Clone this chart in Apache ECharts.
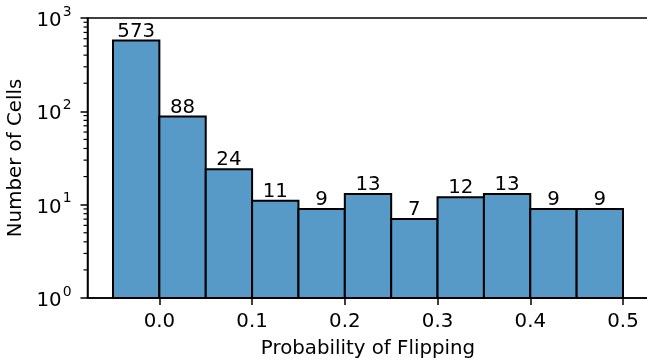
<!DOCTYPE html>
<html>
<head>
<meta charset="utf-8">
<script src="https://cdn.jsdelivr.net/npm/echarts@6/dist/echarts.min.js"></script>
<style>html,body{margin:0;padding:0;background:#fff;}#c{width:647px;height:362px;}</style>
</head>
<body>
<div id="c"></div>
<script>
var binLeft = [-0.05, 0.0, 0.05, 0.1, 0.15, 0.2, 0.25, 0.3, 0.35, 0.4, 0.45];
var binRight = [0.0, 0.05, 0.1, 0.15, 0.2, 0.25, 0.3, 0.35, 0.4, 0.45, 0.5];
var counts = [573, 88, 24, 11, 9, 13, 7, 12, 13, 9, 9];
var xTicks = [0.0, 0.1, 0.2, 0.3, 0.4, 0.5];
var yMajor = [1, 10, 100, 1000];
var yMinor = [2,3,4,5,6,7,8,9,20,30,40,50,60,70,80,90,200,300,400,500,600,700,800,900];

var FONT = 'DejaVu Sans';
var FS = 19.8;
var XMIN = -0.0775, XMAX = 0.5275;

var chart = echarts.init(document.getElementById('c'), null, {renderer: 'canvas'});
chart.setOption({
  animation: false,
  backgroundColor: '#fff',
  grid: {left: 87.5, top: 18, width: 561, height: 280, containLabel: false, outerBoundsMode: 'none',
         show: true, borderColor: '#000', borderWidth: 1.5, backgroundColor: 'transparent'},
  xAxis: {
    type: 'value', min: XMIN, max: XMAX,
    name: 'Probability of Flipping', nameLocation: 'middle', nameGap: 41,
    nameTextStyle: {fontFamily: FONT, fontSize: FS, color: '#000'},
    axisLine: {show: true, onZero: false, lineStyle: {color: '#000', width: 1.5}},
    axisTick: {show: true, length: 7, lineStyle: {color: '#000', width: 1.5}, customValues: xTicks},
    axisLabel: {fontFamily: FONT, fontSize: FS, color: '#000', margin: 14, customValues: xTicks,
      formatter: function (v) { return v.toFixed(1); }},
    splitLine: {show: false}
  },
  yAxis: {
    type: 'log', logBase: 10, min: 1, max: 1000,
    name: 'Number of Cells', nameLocation: 'middle', nameGap: 56,
    nameTextStyle: {fontFamily: FONT, fontSize: FS, color: '#000'},
    axisLine: {show: true, onZero: false, lineStyle: {color: '#000', width: 1.5}},
    axisTick: {show: true, length: 7, lineStyle: {color: '#000', width: 1.5}},
    axisLabel: {
      margin: 16, color: '#000',
      formatter: function (v) {
        var e = Math.round(Math.log10(v));
        return '{b|10}{s|' + e + '}';
      },
      rich: {
        b: {fontFamily: FONT, fontSize: FS, color: '#000', lineHeight: 26, verticalAlign: 'bottom'},
        s: {fontFamily: FONT, fontSize: 13.9, color: '#000', lineHeight: 26, verticalAlign: 'top', padding: [0,0,0,1]}
      }
    },
    splitLine: {show: false}
  },
  series: [
    {
      type: 'custom',
      coordinateSystem: 'cartesian2d',
      data: counts.map(function (c, i) { return [binLeft[i], binRight[i], c]; }),
      encode: {x: [0, 1], y: 2},
      clip: false,
      renderItem: function (params, api) {
        var p0 = api.coord([api.value(0), api.value(2)]);
        var p1 = api.coord([api.value(1), 1]);
        var cx = (p0[0] + p1[0]) / 2;
        return {
          type: 'group',
          children: [
            {type: 'rect', shape: {x: p0[0], y: p0[1], width: p1[0] - p0[0], height: p1[1] - p0[1]},
             style: {fill: 'rgb(87,153,199)', stroke: '#000', lineWidth: 2}},
            {type: 'text', x: cx, y: p0[1] + 1,
             style: {text: String(api.value(2)), fontFamily: FONT, fontSize: FS, fill: '#000', align: 'center', verticalAlign: 'bottom'}}
          ]
        };
      },
      z: 2
    },
    {
      type: 'custom',
      coordinateSystem: 'cartesian2d',
      data: yMinor.map(function (v) { return [XMIN, v]; }),
      clip: false,
      renderItem: function (params, api) {
        var p = api.coord([api.value(0), api.value(1)]);
        return {type: 'line', shape: {x1: p[0] - 4, y1: p[1], x2: p[0], y2: p[1]},
                style: {stroke: '#000', lineWidth: 1.2}};
      },
      z: 3
    }
  ]
});
</script>
</body>
</html>
